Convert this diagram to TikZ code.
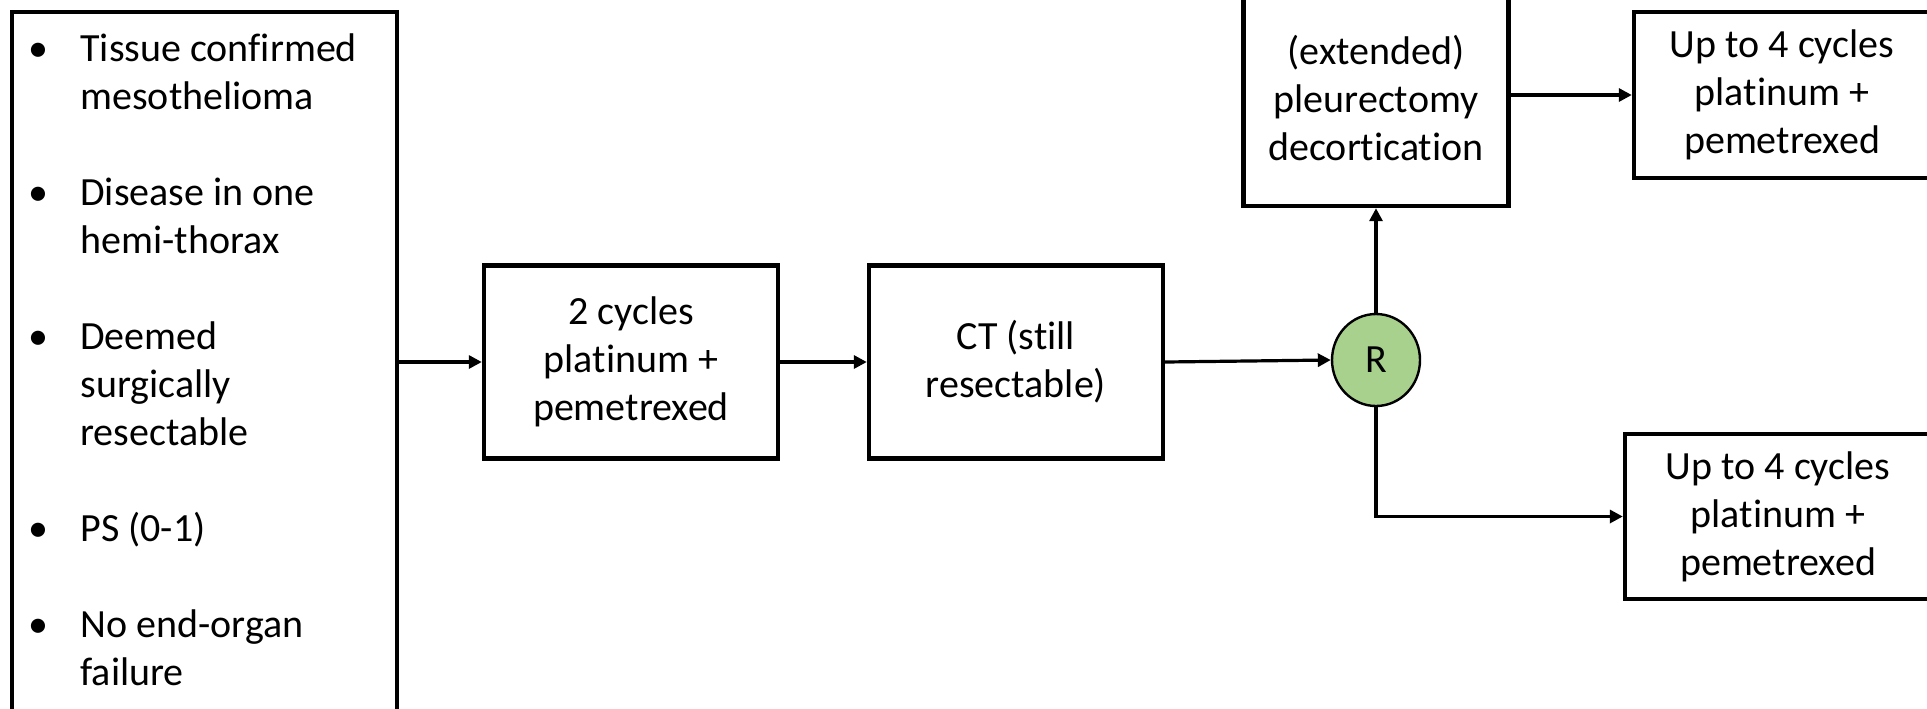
\documentclass[tikz,border=0pt]{standalone}
\usepackage{fontspec}
\setmainfont{Carlito}[Ligatures={NoCommon,NoRequired,NoContextual}]
\usetikzlibrary{arrows.meta,shapes.geometric}
\definecolor{rgreen}{HTML}{A9D18E}
\begin{document}
\begin{tikzpicture}[x=0.5pt,y=-0.5pt,
  box/.style={draw=black,line width=2.2pt,rectangle,align=center,inner sep=0pt,
    font=\fontsize{20}{24}\selectfont},
  conn/.style={line width=1.6pt,-{Triangle[length=6.5pt,width=6.5pt]}},
  rnode/.style={draw=black,line width=1.2pt,fill=rgreen,ellipse,inner sep=0pt,
    minimum width=44pt,minimum height=46pt,font=\fontsize{20}{24}\selectfont}]
\useasboundingbox (0,0) rectangle (1927,708);
\clip (0,0) rectangle (1927,708);
\fill[white] (0,0) rectangle (1927,708);

\node[box,minimum width=192.5pt,minimum height=374pt] (crit) at (204.5,386) {};
\node[anchor=north west,inner sep=0pt,font=\fontsize{20}{24}\selectfont] (list) at (28,27) {%
\begin{tabular}{@{}p{26pt}@{}l@{}}
\textbullet & Tissue confirmed\\
 & mesothelioma\\
 & \\
\textbullet & Disease in one\\
 & hemi-thorax\\
 & \\
\textbullet & Deemed\\
 & surgically\\
 & resectable\\
 & \\
\textbullet & PS (0-1)\\
 & \\
\textbullet & No end-organ\\
 & failure
\end{tabular}};

\node[box,minimum width=147pt,minimum height=96.5pt] (b2) at (631,362)
  {2 cycles\\platinum +\\pemetrexed};
\node[box,minimum width=147pt,minimum height=96.5pt] (ct) at (1016,362)
  {CT (still\\resectable)};
\node[rnode] (R) at (1376,360) {R};
\node[box,minimum width=132.5pt,minimum height=108pt] (ext) at (1376,98)
  {(extended)\\pleurectomy\\decortication};
\node[box,minimum width=148pt,minimum height=83pt] (tr) at (1782,95)
  {Up to 4 cycles\\platinum +\\pemetrexed};
\node[box,minimum width=153pt,minimum height=82.5pt] (br) at (1778,516.5)
  {Up to 4 cycles\\platinum +\\pemetrexed};

\draw[conn] (crit.east |- b2.west) -- (b2.west);
\draw[conn] (b2.east) -- (ct.west);
\draw[conn] (ct.east) -- (R.west);
\draw[conn] (R.north) -- (ext.south);
\draw[conn] (ext.east |- tr.west) -- (tr.west);
\draw[conn] (R.south) |- (br.west);
\end{tikzpicture}
\end{document}
